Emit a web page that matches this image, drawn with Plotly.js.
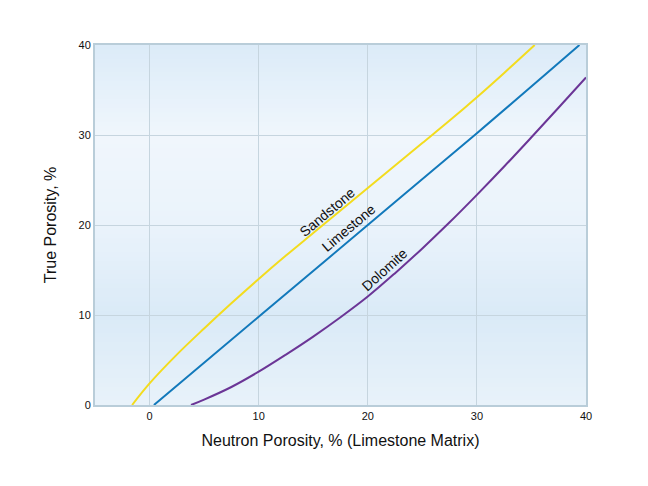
<!DOCTYPE html>
<html>
<head>
<meta charset="utf-8">
<script src="https://cdn.plot.ly/plotly-3.0.1.min.js"></script>
<style>html,body{margin:0;padding:0;background:#fff;}#chart{width:648px;height:486px;}</style>
</head>
<body>
<div id="chart"></div>
<script>
// Data
var sandstoneX = [-1.6, 0, 2.5, 5, 7.5, 10, 12.5, 15, 17.5, 20, 22.5, 25, 27.5, 30, 32.5, 35.3];
var sandstoneY = [0, 2.4, 5.6, 8.5, 11.3, 14.0, 16.6, 19.1, 21.6, 24.1, 26.6, 29.1, 31.6, 34.2, 36.9, 40];
var limestoneX = [0.4, 10, 20, 30, 39.4];
var limestoneY = [0, 9.8, 20.0, 30.2, 40];
var dolomiteX = [3.8, 5, 7.5, 10, 12.5, 15, 17.5, 20, 22.5, 25, 27.5, 30, 32.5, 35, 37.5, 40];
var dolomiteY = [0, 0.6, 2.0, 3.7, 5.6, 7.6, 9.75, 12.05, 14.65, 17.4, 20.3, 23.35, 26.5, 29.75, 33.05, 36.4];
var labels = ["Sandstone", "Limestone", "Dolomite"];
var labelX = [16.3, 18.2, 21.5];
var labelY = [21.4, 19.7, 15.0];
var xTicks = [0, 10, 20, 30, 40];
var yTicks = [0, 10, 20, 30, 40];

// background gradient stops (style only)
var bgStopY = [0, 10, 20, 30, 40];
var bgStopC = [[232,242,250],[218,234,247],[234,243,251],[240,246,252],[219,235,248]];
function bgColor(y){
  for (var i=0;i<bgStopY.length-1;i++){
    if (y<=bgStopY[i+1]){
      var t=(y-bgStopY[i])/(bgStopY[i+1]-bgStopY[i]);
      var a=bgStopC[i], b=bgStopC[i+1];
      return 'rgb('+Math.round(a[0]+(b[0]-a[0])*t)+','+Math.round(a[1]+(b[1]-a[1])*t)+','+Math.round(a[2]+(b[2]-a[2])*t)+')';
    }
  }
  return 'rgb(219,235,248)';
}
var shapes=[];
var step=0.5;
for (var y=0;y<40;y+=step){
  shapes.push({type:'rect',xref:'paper',yref:'y',x0:0,x1:1,y0:y,y1:y+step+0.05,
    fillcolor:bgColor(y+step/2),line:{width:0},layer:'below'});
}

var traces=[
  {x:sandstoneX,y:sandstoneY,mode:'lines',line:{color:'#f3dc1e',width:2,shape:'spline',smoothing:1},hoverinfo:'none'},
  {x:limestoneX,y:limestoneY,mode:'lines',line:{color:'#1279bb',width:2,shape:'spline',smoothing:1},hoverinfo:'none'},
  {x:dolomiteX,y:dolomiteY,mode:'lines',line:{color:'#6b3596',width:2,shape:'spline',smoothing:1},hoverinfo:'none'}
];
var angles=[-40,-40,-42];
var annotations=labels.map(function(t,i){
  return {x:labelX[i],y:labelY[i],xref:'x',yref:'y',text:t,showarrow:false,textangle:angles[i],
    font:{family:'Liberation Sans, Arial, sans-serif',size:14,color:'#111'}};
});

var layout={
  width:648,height:486,
  margin:{l:95,r:62,t:45,b:81},
  paper_bgcolor:'#ffffff',plot_bgcolor:'#e8f2fa',
  showlegend:false,
  font:{family:'Liberation Sans, Arial, sans-serif',color:'#111'},
  xaxis:{range:[-5,40],tickvals:xTicks,ticktext:xTicks.map(String),showgrid:true,gridcolor:'#c6d5df',gridwidth:1,
    zeroline:false,showline:true,linecolor:'#b9cdd9',linewidth:2,mirror:true,ticks:'',
    tickfont:{size:11,color:'#111'},
    title:{text:'Neutron Porosity, % (Limestone Matrix)',font:{size:16,color:'#111'},standoff:14}},
  yaxis:{range:[0,40],tickvals:yTicks,ticktext:yTicks.map(String),showgrid:true,gridcolor:'#c6d5df',gridwidth:1,
    zeroline:false,showline:true,linecolor:'#b9cdd9',linewidth:2,mirror:true,ticks:'',
    tickfont:{size:11,color:'#111'},
    title:{text:'True Porosity, %',font:{size:16,color:'#111'},standoff:18}},
  shapes:shapes,
  annotations:annotations
};
Plotly.newPlot('chart',traces,layout,{staticPlot:true,displayModeBar:false});
</script>
</body>
</html>
